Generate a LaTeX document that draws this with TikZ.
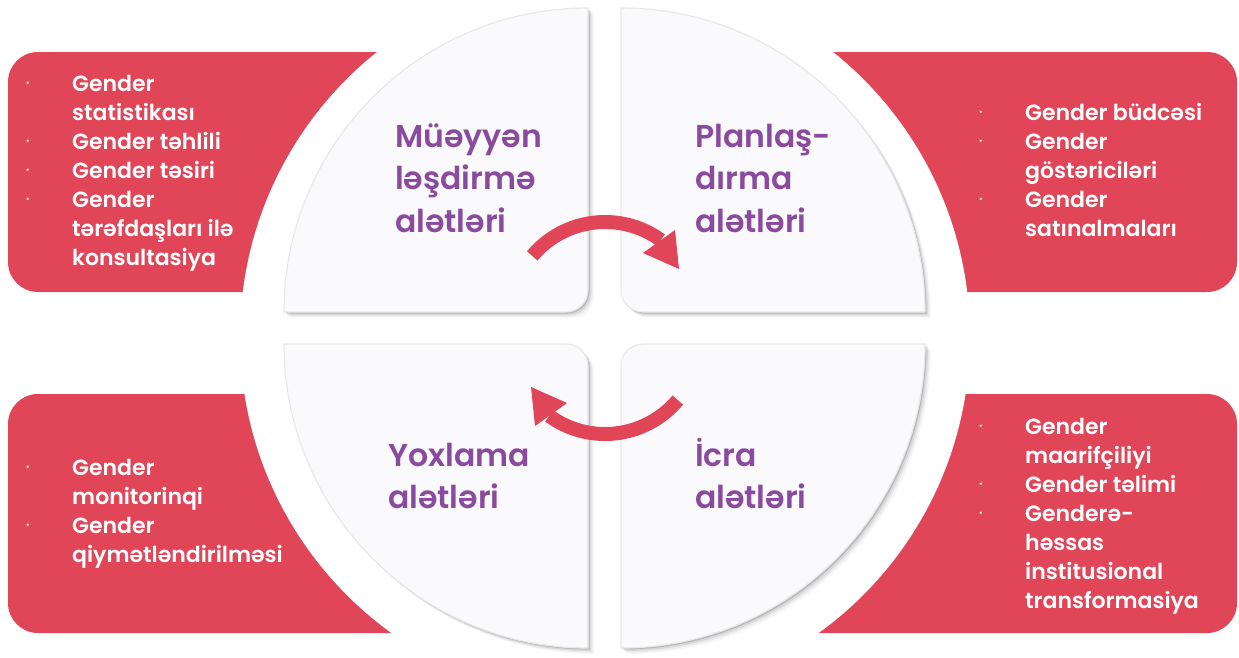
\documentclass[tikz,border=0pt]{standalone}
\usepackage{fontspec}
\setmainfont{Poppins}[BoldFont={Poppins SemiBold}]
\definecolor{boxred}{RGB}{224,69,88}
\definecolor{titlepurple}{RGB}{138,74,158}
\definecolor{sectorfill}{RGB}{250,250,252}
\newcommand{\bulletdot}{\raisebox{3.5pt}{\fontsize{13}{13}\selectfont ·}}
\tikzset{
  quarter/.pic={
    \path[pic actions] (304,0) -- (22,0) arc[start angle=270,end angle=180,radius=22]
      -- (0,304) arc[start angle=90,end angle=0,radius=304] -- cycle;
  }
}
\begin{document}
\begin{tikzpicture}[x=1pt,y=1pt,
  redbox/.style={fill=boxred, rounded corners=30pt},
  sectorbox/.style={fill=sectorfill, draw=black!9, line width=1.2pt},
  shadowbox/.style={fill=black, opacity=#1},
  titletext/.style={anchor=base west, inner sep=0pt, text=titlepurple,
    font=\fontsize{31.5}{42.5}\selectfont\bfseries},
  listtext/.style={anchor=base west, inner sep=0pt, text=white,
    font=\fontsize{22}{29}\selectfont\bfseries},
  cyclearc/.style={draw=boxred, line width=14pt}]
\useasboundingbox (0,0) rectangle (1239,-657);
\fill[white] (0,0) rectangle (1239,-657);

% red boxes
\fill[redbox] (8,-52) rectangle (640,-292);
\fill[redbox] (570,-52) rectangle (1237,-292);
\fill[redbox] (8,-394) rectangle (640,-633);
\fill[redbox] (570,-394) rectangle (1237,-633);
\fill[white] (605,-337) circle[radius=365pt];

% quarter sectors with soft shadows
\foreach \sx/\sy/\cx/\cy in {-1/1/588/312, 1/1/621/312, -1/-1/588/344, 1/-1/621/344}{
  \foreach \d/\o in {6/0.03, 4.5/0.05, 3/0.08, 1.5/0.14}{
    \pic[shadowbox=\o, xscale=\sx, yscale=\sy] at (\cx+\d,-\cy-\d) {quarter};
  }
  \pic[sectorbox, xscale=\sx, yscale=\sy] at (\cx,-\cy) {quarter};
}

% cycle arrows
\draw[cyclearc] (605,-317) ++(140:95) arc[start angle=140, end angle=54, radius=95];
\fill[boxred] (675,-230) -- (643,-253) -- (679,-269) -- cycle;
\begin{scope}[rotate around={180:(605,-328)}]
  \draw[cyclearc] (605,-317) ++(140:95) arc[start angle=140, end angle=54, radius=95];
  \fill[boxred] (675,-230) -- (643,-253) -- (679,-269) -- cycle;
\end{scope}

% titles
\node[titletext] (t1) at (395,-147) {\begin{tabular}[t]{@{}l@{}}Müəyyən\\ləşdirmə\\alətləri\end{tabular}};
\node[titletext] (t2) at (695,-147) {\begin{tabular}[t]{@{}l@{}}Planlaş-\\dırma\\alətləri\end{tabular}};
\node[titletext] (t3) at (388,-466) {\begin{tabular}[t]{@{}l@{}}Yoxlama\\alətləri\end{tabular}};
\node[titletext] (t4) at (695,-466) {\begin{tabular}[t]{@{}l@{}}İcra\\alətləri\end{tabular}};

% lists
\node[listtext] (l1) at (26,-91) {\begin{tabular}[t]{@{}p{46pt}@{}l@{}}
  \bulletdot & Gender\\ & statistikası\\ \bulletdot & Gender təhlili\\ \bulletdot & Gender təsiri\\
  \bulletdot & Gender\\ & tərəfdaşları ilə\\ & konsultasiya\end{tabular}};
\node[listtext] (l2) at (979,-120) {\begin{tabular}[t]{@{}p{46pt}@{}l@{}}
  \bulletdot & Gender büdcəsi\\ \bulletdot & Gender\\ & göstəriciləri\\ \bulletdot & Gender\\ & satınalmaları\end{tabular}};
\node[listtext] (l3) at (26,-475) {\begin{tabular}[t]{@{}p{46pt}@{}l@{}}
  \bulletdot & Gender\\ & monitorinqi\\ \bulletdot & Gender\\ & qiymətləndirilməsi\end{tabular}};
\node[listtext] (l4) at (979,-434) {\begin{tabular}[t]{@{}p{46pt}@{}l@{}}
  \bulletdot & Gender\\ & maarifçiliyi\\ \bulletdot & Gender təlimi\\ \bulletdot & Genderə-\\ & həssas\\
  & institusional\\ & transformasiya\end{tabular}};
\end{tikzpicture}
\end{document}
